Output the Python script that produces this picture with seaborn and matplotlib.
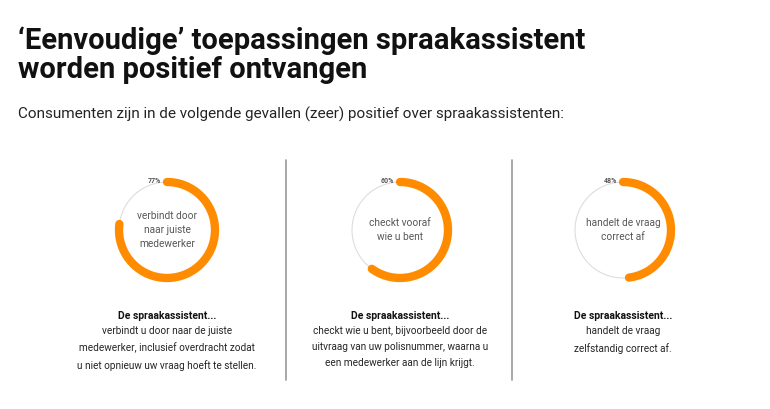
import numpy as np
import pandas as pd
import matplotlib
matplotlib.use("Agg")
import matplotlib.pyplot as plt
import seaborn as sns

pcts = [77, 60, 48]
inner_labels = ["verbindt door\nnaar juiste\nmedewerker", "checkt vooraf\nwie u bent", "handelt de vraag\ncorrect af"]
captions = [
    "verbindt u door naar de juiste\nmedewerker, inclusief overdracht zodat\nu niet opnieuw uw vraag hoeft te stellen.",
    "checkt wie u bent, bijvoorbeeld door de\nuitvraag van uw polisnummer, waarna u\neen medewerker aan de lijn krijgt.",
    "handelt de vraag\nzelfstandig correct af.",
]
centers_x = [167, 400, 623]

sns.set_theme(style="white", font="Roboto")
W, H = 770, 409
fig = plt.figure(figsize=(W / 100, H / 100), dpi=100)
fig.patch.set_facecolor("white")

fig.text(18 / W, 1 - 55 / H, "‘Eenvoudige’ toepassingen spraakassistent\nworden positief ontvangen",
         fontsize=21, fontweight="bold", color="#111111", va="center", ha="left", linespacing=1.05)
fig.text(18 / W, 1 - 114 / H, "Consumenten zijn in de volgende gevallen (zeer) positief over spraakassistenten:",
         fontsize=11, color="#222222", va="center", ha="left")

for xd in [286, 512]:
    fig.add_artist(plt.Line2D([xd / W, xd / W], [1 - 160 / H, 1 - 380 / H], color="#999999", lw=1.2))

R = 48
orange = "#FF8C00"
for cx, p, lab, cap in zip(centers_x, pcts, inner_labels, captions):
    size = 130
    ax = fig.add_axes([(cx - size / 2) / W, 1 - (230 + size / 2) / H, size / W, size / H])
    t_full = np.linspace(0, 2 * np.pi, 200)
    ax.plot(R * np.sin(t_full), R * np.cos(t_full), color="#dddddd", lw=0.8)
    t = np.linspace(0, 2 * np.pi * p / 100, 200)
    df = pd.DataFrame({"x": R * np.sin(t), "y": R * np.cos(t)})
    sns.lineplot(data=df, x="x", y="y", sort=False, ax=ax, color=orange, lw=6,
                 solid_capstyle="round")
    ax.text(-6, R + 1, f"{p}%", fontsize=5, fontweight="bold", color="#555555", ha="right", va="center")
    ax.text(0, 0, lab, fontsize=7.3, color="#555555", ha="center", va="center", linespacing=1.45)
    ax.set_xlim(-65, 65)
    ax.set_ylim(-65, 65)
    ax.set_aspect("equal")
    ax.axis("off")
    fig.text(cx / W, 1 - 316 / H, "De spraakassistent...", fontsize=7.5, fontweight="bold",
             color="#111111", ha="center", va="center")
    fig.text(cx / W, 1 - 326 / H, cap, fontsize=7.2, color="#222222", ha="center", va="top",
             linespacing=1.75)

fig.savefig("out.png", dpi=100)
